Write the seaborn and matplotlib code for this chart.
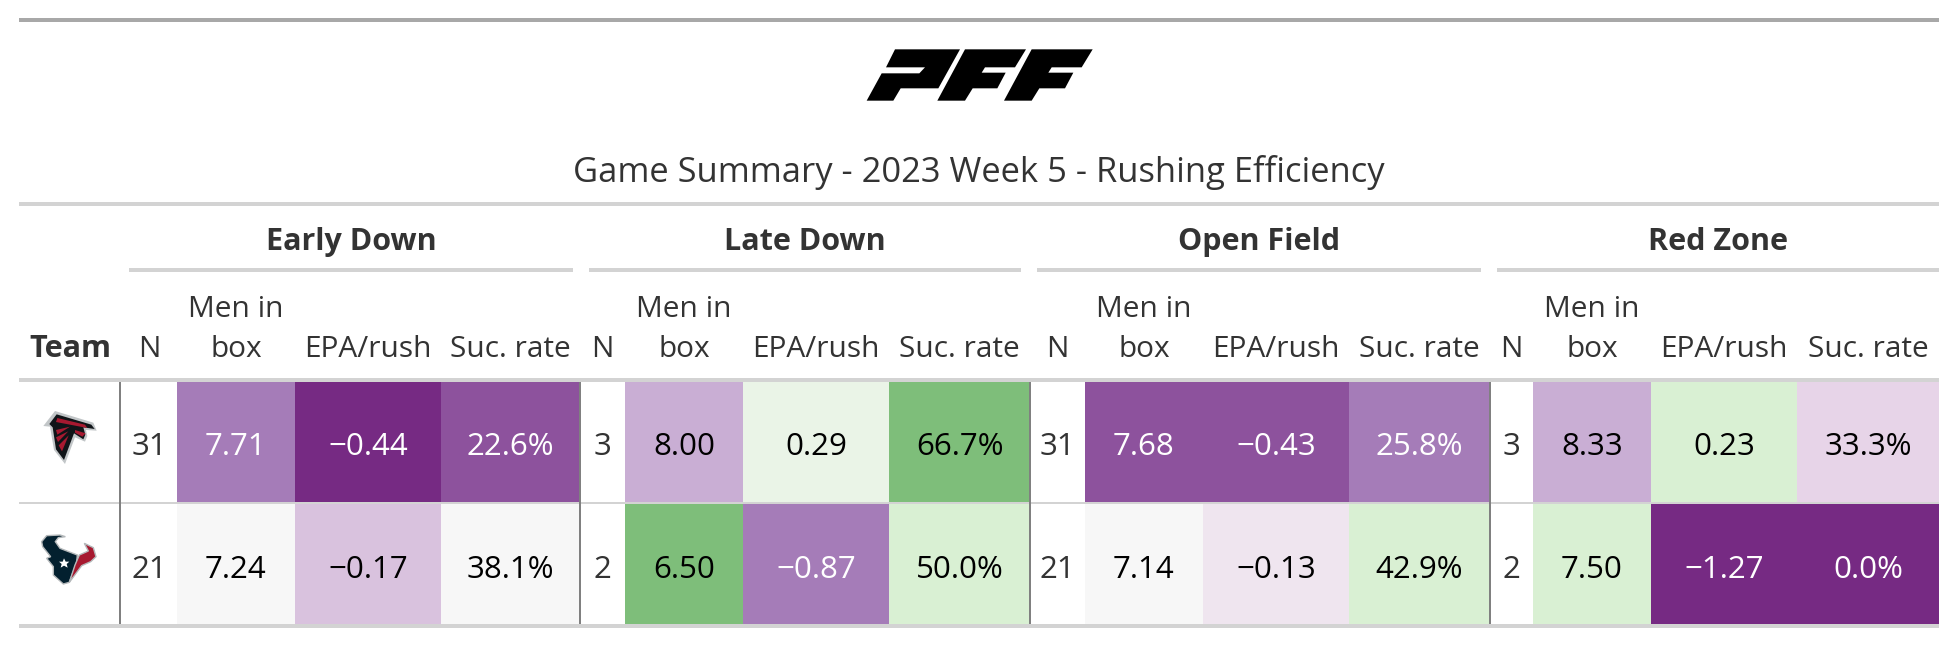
import numpy as np
import pandas as pd
import matplotlib.pyplot as plt
from matplotlib.colors import LinearSegmentedColormap, ListedColormap
from matplotlib.patches import Polygon
import seaborn as sns

sns.set_theme(style="white")
plt.rcParams['font.family'] = ['Open Sans', 'DejaVu Sans']

W, H = 1958, 646

# table content, row order is Falcons then Texans
title = "Game Summary - 2023 Week 5 - Rushing Efficiency"
groups = ['Early Down', 'Late Down', 'Open Field', 'Red Zone']
n_plays = [['31', '21'], ['3', '2'], ['31', '21'], ['3', '2']]
men_in_box = [['7.71', '7.24'], ['8.00', '6.50'], ['7.68', '7.14'], ['8.33', '7.50']]
epa_rush = [['\u22120.44', '\u22120.17'], ['0.29', '\u22120.87'], ['\u22120.43', '\u22120.13'], ['0.23', '\u22121.27']]
suc_rate = [['22.6%', '38.1%'], ['66.7%', '50.0%'], ['25.8%', '42.9%'], ['33.3%', '0.0%']]

# position of each cell on the purple-green scale
men_shade = [[-0.72, 0.0], [-0.51, 0.667], [-0.86, 0.0], [-0.51, 0.33]]
epa_shade = [[-1.0, -0.42], [0.145, -0.72], [-0.86, -0.17], [0.33, -1.0]]
suc_shade = [[-0.86, 0.0], [0.667, 0.33], [-0.72, 0.33], [-0.33, -1.0]]

prgn = LinearSegmentedColormap.from_list(
    'prgn7', ['#762A83', '#AF8DC3', '#E7D4E8', '#F7F7F7', '#D9F0D3', '#7FBF7B', '#1B7837'])
white = ListedColormap(['#FFFFFF'])

# column edges in pixels, one list per group: N, men in box, EPA, success, end
edges = [[121, 177, 295, 441, 580],
         [580, 625, 743, 889, 1030],
         [1030, 1085, 1203, 1349, 1490],
         [1490, 1533, 1651, 1797, 1939]]
group_rules = [(129, 573), (589, 1021), (1037, 1481), (1497, 1939)]
ROW_TOP, ROW_BOTTOM = 380, 626

TEXT = '#333333'
RULE = '#D3D3D3'
FS_HEAD = 21.5
FS_CELL = 22.5

fig = plt.figure(figsize=(W / 100, H / 100), dpi=100)


def cell_column(x0, x1, shades, labels, cmap, text_color=None):
    ax = fig.add_axes([x0 / W, 1 - ROW_BOTTOM / H, (x1 - x0) / W, (ROW_BOTTOM - ROW_TOP) / H])
    frame = pd.DataFrame({'v': shades})
    sns.heatmap(frame, ax=ax, cmap=cmap, vmin=-1, vmax=1, cbar=False,
                annot=np.array(labels).reshape(-1, 1), fmt='',
                annot_kws={'fontsize': FS_CELL, 'va': 'baseline'},
                xticklabels=False, yticklabels=False)
    for r, t in enumerate(ax.texts):
        # sit on the same baseline as the reference, a little under the row centre
        t.set_y(r + 0.61)
        if text_color:
            t.set_color(text_color)
        elif t.get_color() != 'w':
            t.set_color('black')
    return ax


for i in range(4):
    e = edges[i]
    cell_column(e[0], e[1], [0, 0], n_plays[i], white, TEXT)
    cell_column(e[1], e[2], men_shade[i], men_in_box[i], prgn)
    cell_column(e[2], e[3], epa_shade[i], epa_rush[i], prgn)
    cell_column(e[3], e[4], suc_shade[i], suc_rate[i], prgn)

# everything else sits on one overlay in pixel coordinates
top = fig.add_axes([0, 0, 1, 1], zorder=5)
top.set_xlim(0, W)
top.set_ylim(H, 0)
top.axis('off')


def rule(x0, x1, y0, y1, color=RULE):
    top.fill_between([x0, x1], y0, y1, color=color, lw=0)


rule(19, 1939, 18, 22, '#A8A8A8')
rule(19, 1939, 202, 206)
rule(19, 1939, 378, 382)
rule(19, 1939, 502, 504)
rule(19, 1939, 624, 628)
for x0, x1 in group_rules:
    rule(x0, x1, 268, 272)
for x in [120, 580, 1030, 1490]:
    rule(x - 1, x + 1, 382, 624, '#808080')

top.text(979, 182, title, ha='center', va='baseline', fontsize=24.8, color=TEXT)
top.text(70, 357, 'Team', ha='center', va='baseline', fontsize=22, weight='bold', color=TEXT)

for i, name in enumerate(groups):
    x0, x1 = group_rules[i]
    top.text((x0 + x1) / 2, 250, name, ha='center', va='baseline', fontsize=22, weight='bold', color=TEXT)
    e = edges[i]
    top.text((e[0] + e[1]) / 2, 357, 'N', ha='center', va='baseline', fontsize=FS_HEAD, color=TEXT)
    top.text((e[1] + e[2]) / 2, 317, 'Men in', ha='center', va='baseline', fontsize=FS_HEAD, color=TEXT)
    top.text((e[1] + e[2]) / 2, 357, 'box', ha='center', va='baseline', fontsize=FS_HEAD, color=TEXT)
    top.text((e[2] + e[3]) / 2, 357, 'EPA/rush', ha='center', va='baseline', fontsize=FS_HEAD, color=TEXT)
    top.text((e[3] + e[4]) / 2, 357, 'Suc. rate', ha='center', va='baseline', fontsize=FS_HEAD, color=TEXT)


def shape(points, color, ox, oy, edge=None):
    pts = [(ox + a / 3, oy + b / 3) for a, b in points]
    top.add_patch(Polygon(pts, closed=True, facecolor=color, edgecolor=edge or 'none', lw=1 if edge else 0))


# PFF logo
shape([(105, 28), (300, 28), (235, 145), (122, 145), (100, 182), (20, 182), (65, 100),
       (178, 100), (195, 82), (78, 82)], 'black', 860, 40)
shape([(315, 28), (498, 28), (465, 82), (375, 82), (365, 98), (437, 98), (412, 145),
       (338, 145), (315, 182), (232, 182)], 'black', 860, 40)
shape([(515, 28), (698, 28), (665, 82), (575, 82), (565, 98), (640, 98), (615, 145),
       (538, 145), (515, 182), (432, 182)], 'black', 860, 40)

# Falcons logo
shape([(40, 78), (75, 33), (190, 68), (200, 92), (168, 90), (172, 108), (165, 125),
       (135, 112), (105, 192), (72, 150), (60, 80)], '#C2C6C8', 30, 400)
shape([(58, 72), (80, 43), (184, 74), (194, 87), (160, 82), (166, 104), (160, 118),
       (132, 100), (102, 180), (78, 148), (68, 82)], '#101418', 30, 400)
shape([(82, 54), (165, 74), (172, 84), (78, 66)], '#A71930', 30, 400)
shape([(78, 90), (120, 80), (82, 104)], '#A71930', 30, 400)
shape([(78, 112), (115, 94), (84, 126)], '#A71930', 30, 400)
shape([(86, 136), (116, 106), (96, 154)], '#A71930', 30, 400)
shape([(135, 90), (167, 100), (157, 110), (135, 98)], '#A71930', 30, 400)

# Texans logo
shape([(35, 50), (50, 32), (90, 30), (106, 35), (85, 38), (76, 50), (90, 70), (142, 90),
       (140, 112), (118, 172), (100, 177), (70, 150), (70, 125), (50, 100), (62, 95), (38, 65)],
      '#03202F', 30, 525, edge='#B4B8BA')
shape([(148, 90), (175, 78), (163, 55), (190, 68), (198, 95), (182, 110), (155, 122),
       (118, 172), (135, 120)], '#A71930', 30, 525, edge='#B4B8BA')
shape([(102, 100), (107, 110), (118, 110), (110, 117), (113, 128), (102, 122), (92, 128),
       (95, 117), (87, 110), (98, 110)], 'white', 30, 525)

fig.savefig('out.png', dpi=100)
